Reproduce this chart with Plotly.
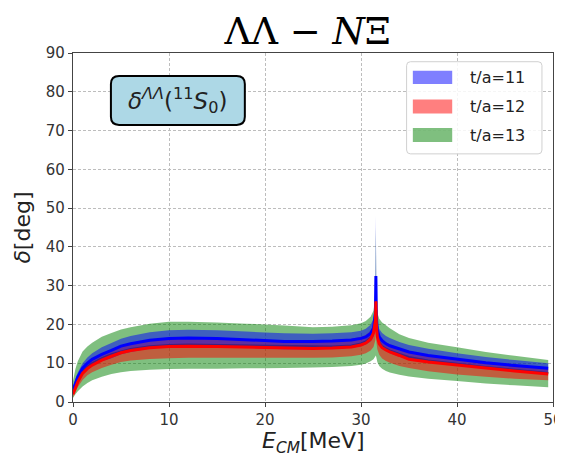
import numpy as np
import plotly.graph_objects as go

# Energies (MeV)
E = [0, 0.25, 0.5, 1, 1.5, 2, 3, 4, 5, 6, 8, 10, 12, 15, 18, 20, 22, 25, 27, 29,
     30, 30.5, 31, 31.3, 31.5, 31.55, 31.6, 31.7, 31.9, 32.2, 32.6, 33, 34, 35, 37, 40, 43, 46, 49.5]

# t/a = 11 (blue)
blue_c = [3.0, 5.0, 6.5, 8.7, 10.0, 11.0, 12.3, 13.3, 14.4, 15.0, 15.9, 16.4, 16.5, 16.4, 16.1, 15.8, 15.6, 15.6, 15.7, 16.0,
          16.4, 16.8, 17.7, 19.0, 23.0, 32.5, 22.0, 18.5, 16.8, 15.8, 15.0, 14.5, 13.6, 12.9, 12.0, 11.0, 10.1, 9.4, 8.7]
blue_hi = [3.8, 6.0, 7.6, 10.0, 11.5, 12.6, 14.1, 15.2, 16.3, 17.0, 18.0, 18.5, 18.6, 18.5, 18.2, 17.9, 17.7, 17.6, 17.7, 18.0,
           18.4, 18.9, 19.9, 21.5, 26.0, 48.0, 24.0, 20.5, 18.8, 17.8, 17.0, 16.5, 15.5, 14.7, 13.7, 12.6, 11.6, 10.8, 10.0]
blue_lo = [2.2, 4.0, 5.4, 7.4, 8.5, 9.4, 10.5, 11.3, 12.3, 12.9, 13.8, 14.3, 14.4, 14.3, 14.0, 13.8, 13.6, 13.6, 13.7, 14.0,
           14.4, 14.8, 15.6, 16.8, 20.0, 24.0, 20.0, 16.5, 14.8, 13.8, 13.1, 12.6, 11.7, 11.0, 10.2, 9.4, 8.6, 8.0, 7.4]

# t/a = 12 (red)
red_c = [2.0, 3.8, 5.2, 7.4, 8.6, 9.5, 10.8, 11.8, 12.7, 13.3, 14.0, 14.3, 14.4, 14.3, 14.1, 14.0, 13.9, 13.8, 13.9, 14.2,
         14.7, 15.2, 16.2, 17.8, 21.0, 26.0, 20.0, 16.8, 15.0, 14.0, 13.4, 12.9, 12.0, 11.0, 10.3, 9.5, 8.7, 8.0, 7.2]
red_hi = [2.8, 4.8, 6.4, 8.6, 10.0, 11.0, 12.5, 13.6, 14.6, 15.2, 16.0, 16.4, 16.5, 16.4, 16.2, 16.0, 15.9, 15.8, 15.9, 16.3,
          16.8, 17.3, 18.4, 20.0, 23.5, 28.0, 22.0, 18.8, 17.0, 16.0, 15.4, 14.9, 13.9, 13.1, 12.1, 11.1, 10.2, 9.4, 8.6]
red_lo = [1.2, 2.7, 3.9, 5.7, 6.9, 7.7, 8.8, 9.6, 10.3, 10.7, 11.1, 11.3, 11.4, 11.4, 11.4, 11.4, 11.4, 11.4, 11.5, 11.8,
          12.2, 12.6, 13.3, 14.2, 16.0, 18.0, 15.5, 13.6, 12.2, 11.2, 10.6, 10.1, 9.3, 8.8, 7.9, 7.1, 6.5, 6.0, 5.6]

# t/a = 13 (green)
green_c = [2.4, 4.3, 5.7, 7.9, 9.1, 10.0, 11.3, 12.3, 13.1, 13.7, 14.4, 14.7, 14.8, 14.7, 14.5, 14.4, 14.3, 14.2, 14.3, 14.6,
           15.1, 15.6, 16.6, 18.2, 21.5, 25.0, 20.5, 17.2, 15.4, 14.4, 13.8, 13.3, 12.4, 11.6, 10.7, 9.8, 9.0, 8.3, 7.5]
green_hi = [5.4, 8.5, 10.5, 13.0, 14.3, 15.3, 16.8, 17.8, 18.7, 19.3, 20.2, 20.7, 20.7, 20.5, 20.2, 20.0, 19.7, 19.3, 19.4, 19.8,
            20.3, 20.9, 22.0, 23.5, 27.0, 45.0, 26.0, 23.0, 21.5, 20.5, 19.8, 19.0, 17.5, 16.5, 15.3, 14.1, 12.9, 11.9, 10.8]
green_lo = [1.0, 2.0, 2.8, 4.0, 4.9, 5.6, 6.5, 7.2, 7.7, 8.0, 8.3, 8.5, 8.6, 8.6, 8.7, 8.7, 8.8, 8.9, 9.0, 9.3,
            9.6, 9.9, 10.5, 11.0, 11.8, 12.0, 11.5, 10.3, 9.3, 8.6, 8.0, 7.6, 7.0, 6.6, 6.0, 5.4, 4.8, 4.3, 3.8]

labels = ["t/a=11", "t/a=12", "t/a=13"]
legend_colors = ["rgba(0,0,255,0.5)", "rgba(255,0,0,0.5)", "rgba(0,128,0,0.5)"]
x_ticks = [0, 10, 20, 30, 40, 50]
y_ticks = [0, 10, 20, 30, 40, 50, 60, 70, 80, 90]

fig = go.Figure()

def band(lo, hi, color, name):
    xs = list(E) + list(E)[::-1]
    ys = list(hi) + list(lo)[::-1]
    return go.Scatter(x=xs, y=ys, fill="toself", fillcolor=color, mode="none",
                      name=name, showlegend=False, hoverinfo="skip")

# green line underneath bands
fig.add_trace(go.Scatter(x=E, y=green_c, mode="lines", line=dict(color="green", width=2),
                         showlegend=False))
fig.add_trace(band(green_lo, green_hi, legend_colors[2], labels[2]))
fig.add_trace(band(red_lo, red_hi, legend_colors[1], labels[1]))
fig.add_trace(band(blue_lo, blue_hi, legend_colors[0], labels[0]))
fig.add_trace(go.Scatter(x=E, y=blue_c, mode="lines", line=dict(color="blue", width=3),
                         showlegend=False))
fig.add_trace(go.Scatter(x=E, y=red_c, mode="lines", line=dict(color="red", width=3),
                         showlegend=False))

tick_font = dict(family="DejaVu Sans", size=15, color="#333")
axis_common = dict(showline=True, mirror=True, linecolor="#444", linewidth=1.2,
                   ticks="outside", ticklen=4, tickcolor="#444", tickfont=tick_font,
                   showgrid=True, gridcolor="#bdbdbd", gridwidth=1, griddash="3px,2px",
                   zeroline=False, automargin=False)

# page body adds an 8px offset; figure sized to fill the rest of the window
fig.update_layout(
    width=555, height=450,
    margin=dict(l=65, r=10, t=45, b=56),
    paper_bgcolor="white", plot_bgcolor="white",
    title=dict(text="ΛΛ − <i>N</i>Ξ", x=0.489, xref="paper", xanchor="center",
               y=1 - 23 / 450, yref="container", yanchor="middle",
               font=dict(family="DejaVu Serif", size=37, color="black")),
    xaxis=dict(range=[0, 50], tickvals=x_ticks, **axis_common),
    yaxis=dict(range=[0, 90], tickvals=y_ticks, **axis_common),
    showlegend=False,
)

# axis titles
fig.add_annotation(x=0.5, y=-0.115, xref="paper", yref="paper", xanchor="center", yanchor="middle",
                   text="<i>E</i><sub><i>CM</i></sub>[MeV]", showarrow=False,
                   font=dict(family="DejaVu Sans", size=22, color="#222"))
fig.add_annotation(x=-0.106, y=0.5, xref="paper", yref="paper", xanchor="center", yanchor="middle",
                   text="<i>δ</i>[deg]", textangle=-90, showarrow=False,
                   font=dict(family="DejaVu Sans", size=22, color="#222"))

def rounded(x0, x1, y0, y1, rx, ry):
    return (f"M{x0+rx},{y0} L{x1-rx},{y0} Q{x1},{y0} {x1},{y0+ry} L{x1},{y1-ry} "
            f"Q{x1},{y1} {x1-rx},{y1} L{x0+rx},{y1} Q{x0},{y1} {x0},{y1-ry} "
            f"L{x0},{y0+ry} Q{x0},{y0} {x0+rx},{y0} Z")

# rounded label box
bx0, bx1, by0, by1 = 0.079, 0.358, 0.794, 0.934
fig.add_shape(type="path", path=rounded(bx0, bx1, by0, by1, 0.017, 0.023),
              xref="paper", yref="paper", fillcolor="#add8e6",
              line=dict(color="black", width=2), layer="above")
fig.add_annotation(x=(bx0 + bx1) / 2, y=(by0 + by1) / 2, xref="paper", yref="paper",
                   xanchor="center", yanchor="middle",
                   text="<i>δ</i><sup><i>ΛΛ</i></sup>(<sup>11</sup><i>S</i><sub>0</sub>)",
                   showarrow=False, font=dict(family="DejaVu Sans", size=23, color="#222"))

# legend (matplotlib style)
fig.add_shape(type="path", path=rounded(0.695, 0.977, 0.711, 0.975, 0.008, 0.011),
              xref="paper", yref="paper", fillcolor="rgba(255,255,255,0.85)",
              line=dict(color="#d0d0d0", width=1), layer="above")
rows = [(0.911, 0.949, 0.931), (0.827, 0.867, 0.848), (0.745, 0.785, 0.765)]
for (ylo, yhi, yc), lab, col in zip(rows, labels, legend_colors):
    fig.add_shape(type="rect", x0=0.708, x1=0.790, y0=ylo, y1=yhi, xref="paper", yref="paper",
                  fillcolor=col, line=dict(width=0), layer="above")
    fig.add_annotation(x=0.823, y=yc, xref="paper", yref="paper", xanchor="left", yanchor="middle",
                       text=lab, showarrow=False,
                       font=dict(family="DejaVu Sans", size=16, color="#222"))

fig.write_html("out.html")
